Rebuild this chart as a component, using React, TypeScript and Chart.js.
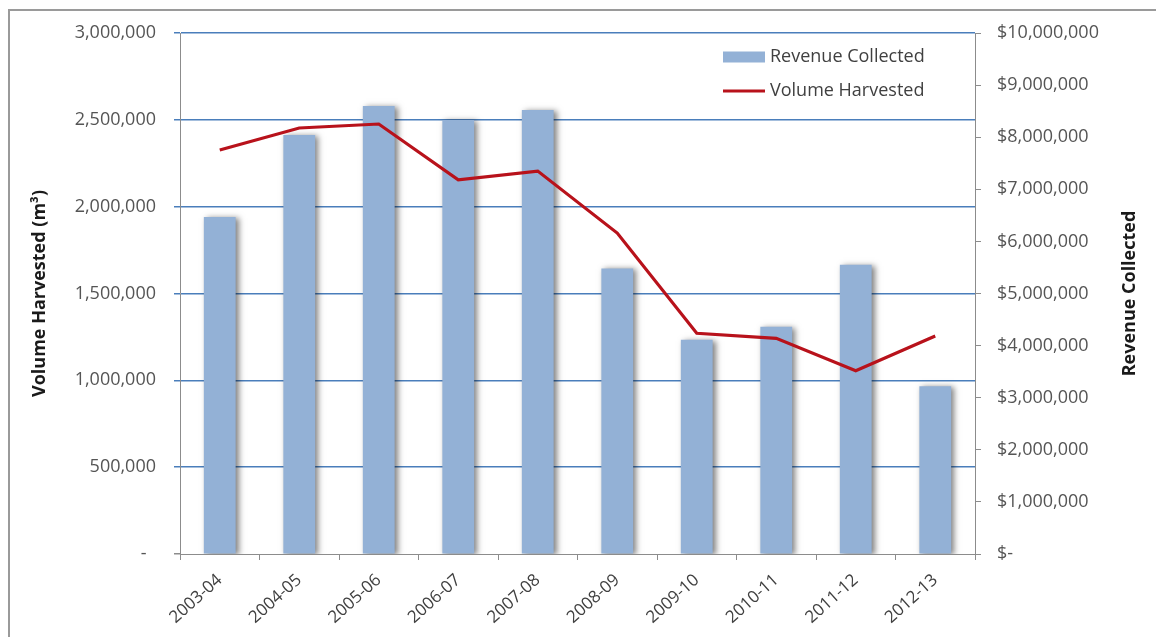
import React, { useEffect, useRef } from "react";
import { Chart, registerables } from "chart.js";

Chart.register(...registerables);

const categories = ["2003-04", "2004-05", "2005-06", "2006-07", "2007-08", "2008-09", "2009-10", "2010-11", "2011-12", "2012-13"];
const revenueCollected = [6470000, 8040000, 8600000, 8330000, 8520000, 5480000, 4110000, 4360000, 5550000, 3220000];
const volumeHarvested = [2326000, 2453000, 2476000, 2154000, 2205000, 1848000, 1271000, 1242000, 1055000, 1255000];
const volumeTicks = { min: 0, max: 3000000, step: 500000 };
const revenueTicks = { min: 0, max: 10000000, step: 1000000 };
const leftTitle = "Volume Harvested (m\u00B3)";
const rightTitle = "Revenue Collected";

const FONT = '"Open Sans", "Noto Sans", sans-serif';
const BAR_COLOR = "#93B1D6";
const LINE_COLOR = "#B8121B";
const GRID_BLUE = "#4A7EBB";
const AXIS_GRAY = "#8C8C8C";
const LABEL_COLOR = "#555555";
const TITLE_COLOR = "#1A1A1A";

const fmt = (v: number) => Math.round(v).toLocaleString("en-US");

const shadowPlugin = {
  id: "barShadow",
  beforeDatasetDraw(chart: any, args: any) {
    if (args.meta.type === "bar") {
      const ctx = chart.ctx;
      ctx.save();
      ctx.shadowColor = "rgba(0,0,0,0.5)";
      ctx.shadowBlur = 6;
      ctx.shadowOffsetX = 3;
      ctx.shadowOffsetY = 1;
    }
  },
  afterDatasetDraw(chart: any, args: any) {
    if (args.meta.type === "bar") {
      chart.ctx.restore();
    }
  },
};

// Right axis title drawn reading bottom-to-top, like the left one.
const rightTitlePlugin = {
  id: "rightTitle",
  afterDraw(chart: any) {
    const ctx = chart.ctx;
    const scale = chart.scales.y1;
    const x = scale.right - 26;
    const y = (scale.top + scale.bottom) / 2;
    ctx.save();
    ctx.translate(x, y);
    ctx.rotate(-Math.PI / 2);
    ctx.fillStyle = TITLE_COLOR;
    ctx.font = `bold 18px ${FONT}`;
    ctx.textAlign = "center";
    ctx.textBaseline = "middle";
    ctx.fillText(rightTitle, 0, 0);
    ctx.restore();
  },
};

const legendPlugin = {
  id: "insideLegend",
  afterDraw(chart: any) {
    const ctx = chart.ctx;
    const area = chart.chartArea;
    const x0 = area.right - 252;
    const y1 = area.top + 24;
    const y2 = area.top + 58;
    ctx.save();
    ctx.fillStyle = BAR_COLOR;
    ctx.fillRect(x0, y1 - 5.5, 42, 11);
    ctx.strokeStyle = LINE_COLOR;
    ctx.lineWidth = 3;
    ctx.beginPath();
    ctx.moveTo(x0, y2);
    ctx.lineTo(x0 + 42, y2);
    ctx.stroke();
    ctx.fillStyle = "#404040";
    ctx.font = `18px ${FONT}`;
    ctx.textAlign = "left";
    ctx.textBaseline = "middle";
    const ds = chart.data.datasets;
    ctx.fillText(ds[1].label, x0 + 47, y1);
    ctx.fillText(ds[0].label, x0 + 47, y2);
    ctx.restore();
  },
};

export default function App() {
  const canvasRef = useRef<HTMLCanvasElement | null>(null);

  useEffect(() => {
    let chart: Chart | null = null;
    let cancelled = false;
    const make = () => {
      if (cancelled || !canvasRef.current) return;
      chart = new Chart(canvasRef.current, {
        type: "bar",
        data: {
          labels: categories,
          datasets: [
            {
              type: "line",
              label: "Volume Harvested",
              data: volumeHarvested,
              yAxisID: "y",
              borderColor: LINE_COLOR,
              backgroundColor: LINE_COLOR,
              borderWidth: 3.2,
              pointRadius: 0,
              tension: 0,
              order: 0,
            } as any,
            {
              type: "bar",
              label: "Revenue Collected",
              data: revenueCollected,
              yAxisID: "y1",
              backgroundColor: BAR_COLOR,
              borderWidth: 0,
              categoryPercentage: 1,
              barPercentage: 0.4,
              order: 1,
            } as any,
          ],
        },
        options: {
          responsive: false,
          animation: false,
          devicePixelRatio: 1,
          layout: { padding: { top: 33, left: 0, right: 0, bottom: 0 } },
          plugins: {
            legend: { display: false },
            tooltip: { enabled: false },
          },
          scales: {
            x: {
              offset: true,
              grid: {
                display: true,
                offset: true,
                drawOnChartArea: false,
                drawTicks: true,
                tickLength: 6,
                color: AXIS_GRAY,
              },
              border: { display: true, color: AXIS_GRAY, width: 1 },
              ticks: {
                autoSkip: false,
                minRotation: 42,
                maxRotation: 42,
                padding: 10,
                color: "#404040",
                font: { family: FONT, size: 17 },
              },
              afterFit: (scale: any) => {
                scale.height = 83;
              },
            },
            y: {
              position: "left",
              min: volumeTicks.min,
              max: volumeTicks.max,
              grid: {
                color: (c: any) => (c.tick && c.tick.value === 0 ? "rgba(0,0,0,0)" : GRID_BLUE),
                tickColor: (c: any) => (c.tick && c.tick.value === 0 ? AXIS_GRAY : GRID_BLUE),
                lineWidth: 1.5,
                tickLength: 6,
                drawTicks: true,
              },
              border: { display: true, color: AXIS_GRAY, width: 1 },
              ticks: {
                stepSize: volumeTicks.step,
                padding: 18,
                color: LABEL_COLOR,
                font: { family: FONT, size: 18 },
                callback: (v: any) => (Number(v) === 0 ? "-  " : fmt(Number(v))),
              },
              title: {
                display: true,
                text: leftTitle,
                color: TITLE_COLOR,
                font: { family: FONT, size: 18, weight: "bold" },
                padding: { top: 29, bottom: 0 },
              },
              afterFit: (scale: any) => {
                scale.width = 180;
              },
            },
            y1: {
              position: "right",
              min: revenueTicks.min,
              max: revenueTicks.max,
              grid: {
                drawOnChartArea: false,
                drawTicks: true,
                tickLength: 6,
                color: AXIS_GRAY,
              },
              border: { display: true, color: AXIS_GRAY, width: 1 },
              ticks: {
                stepSize: revenueTicks.step,
                padding: 16,
                color: LABEL_COLOR,
                font: { family: FONT, size: 18 },
                callback: (v: any) => (Number(v) === 0 ? "$-" : "$" + fmt(Number(v))),
              },
              title: { display: false },
              afterFit: (scale: any) => {
                scale.width = 181;
              },
            },
          },
        } as any,
        plugins: [shadowPlugin, legendPlugin, rightTitlePlugin],
      });
    };
    const fontsApi: any = (document as any).fonts;
    if (fontsApi && fontsApi.load) {
      Promise.all([
        fontsApi.load(`18px "Open Sans"`),
        fontsApi.load(`bold 18px "Open Sans"`),
      ])
        .catch(() => null)
        .then(make);
    } else {
      make();
    }
    return () => {
      cancelled = true;
      if (chart) chart.destroy();
    };
  }, []);

  return (
    <div style={{ position: "fixed", left: 0, top: 0, width: 1156, height: 637, overflow: "hidden", background: "#fff" }}>
      <div
        style={{
          position: "absolute",
          left: 8,
          top: 9,
          width: 1200,
          height: 700,
          borderLeft: "2px solid #9A9A9A",
          borderTop: "2px solid #9A9A9A",
        }}
      />
      <canvas ref={canvasRef} width={1156} height={637} style={{ position: "absolute", left: 0, top: 0, width: 1156, height: 637 }} />
    </div>
  );
}
